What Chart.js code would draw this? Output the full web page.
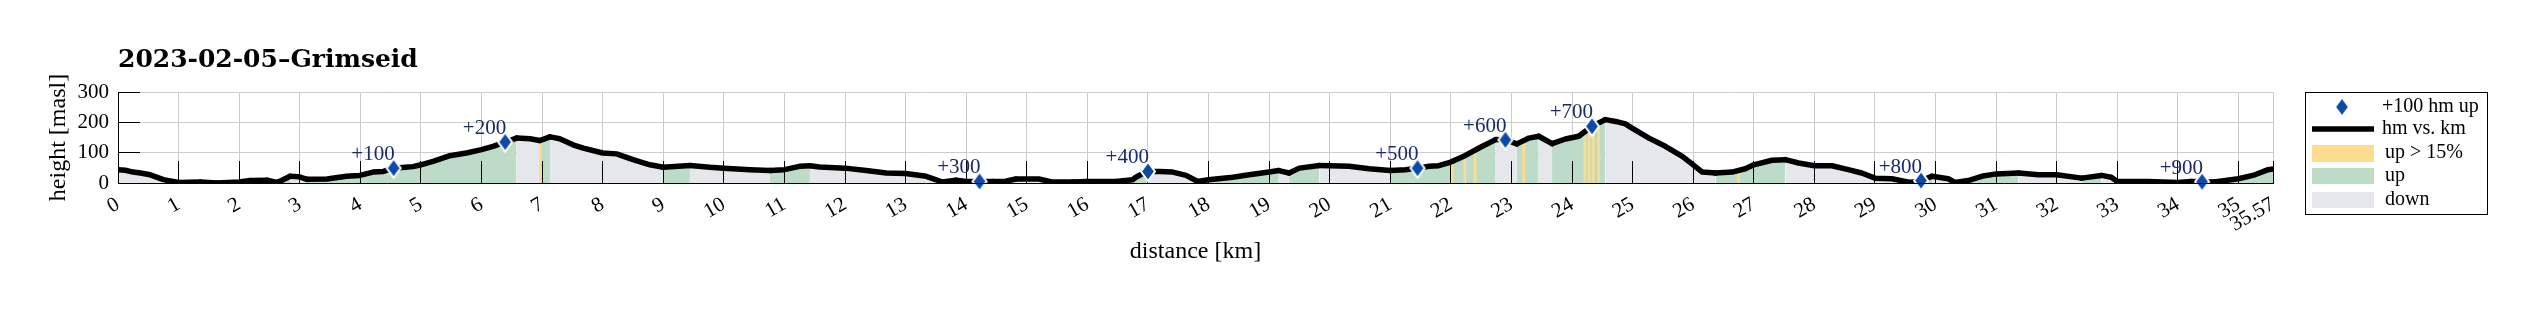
<!DOCTYPE html>
<html>
<head>
<meta charset="utf-8">
<script src="https://cdn.jsdelivr.net/npm/chart.js@4.4.1/dist/chart.umd.min.js"></script>
<style>
  html, body { margin: 0; padding: 0; background: #fff; }
  #wrap { position: relative; width: 2533px; height: 310px; }
</style>
</head>
<body>
<div id="wrap"><canvas id="profile"></canvas></div>
<script>
// elevation profile: distance [km] / height [masl]
const kmPts = [0.00, 0.12, 0.25, 0.37, 0.53, 0.75, 1.00, 1.36, 1.63, 2.00, 2.18, 2.46, 2.62, 2.70, 2.84, 2.98,
  3.12, 3.45, 3.77, 3.99, 4.21, 4.38, 4.55, 4.74, 4.87, 5.00, 5.20, 5.48, 5.75, 6.00, 6.19, 6.39, 6.58, 6.80,
  6.96, 7.13, 7.29, 7.51, 7.68, 8.00, 8.23, 8.50, 8.78, 9.00, 9.44, 9.77, 10.00, 10.43, 10.76, 11.00, 11.25,
  11.42, 11.58, 12.00, 12.35, 12.68, 13.00, 13.34, 13.61, 13.83, 14.00, 14.22, 14.44, 14.65, 14.82, 15.00,
  15.20, 15.43, 15.76, 16.00, 16.47, 16.75, 16.80, 16.98, 17.19, 17.41, 17.63, 17.82, 18.00, 18.40, 18.67,
  19.00, 19.16, 19.33, 19.50, 19.83, 20.00, 20.32, 20.65, 21.00, 21.25, 21.45, 21.64, 21.80, 22.00, 22.24,
  22.52, 22.74, 22.90, 23.09, 23.29, 23.45, 23.67, 23.89, 24.11, 24.33, 24.55, 24.72, 24.88, 24.99, 25.27,
  25.54, 25.82, 26.00, 26.15, 26.37, 26.64, 26.86, 27.00, 27.30, 27.52, 27.74, 28.00, 28.29, 28.56, 28.78,
  29.00, 29.28, 29.58, 29.76, 29.94, 30.21, 30.32, 30.54, 30.76, 31.00, 31.37, 31.70, 32.00, 32.41, 32.74,
  32.90, 33.00, 33.51, 34.00, 34.22, 34.40, 34.60, 35.00, 35.27, 35.49, 35.57];
const elevPts = [44, 42, 36, 33, 27, 11, 2, 3, 0, 3, 8, 9, 2, 8, 22, 21,
  12, 13, 22, 25, 36, 38, 49, 52, 54, 60, 71, 90, 99, 110, 121, 135, 148, 146,
  140, 152, 146, 126, 115, 99, 96, 77, 60, 52, 58, 52, 49, 44, 41, 44, 55,
  57, 53, 49, 41, 33, 31, 22, 3, 9, 5, 5, 5, 6, 13, 13,
  13, 3, 3, 5, 5, 11, 19, 38, 38, 36, 25, 5, 11, 19, 27,
  36, 41, 33, 49, 58, 57, 55, 47, 41, 44, 49, 55, 57, 69, 91,
  121, 143, 142, 129, 148, 154, 130, 145, 154, 187, 209, 203, 195, 181, 148,
  121, 88, 60, 36, 33, 36, 47, 60, 75, 77, 66, 57, 57, 44, 33,
  16, 14, 2, 8, 22, 14, 2, 8, 22, 30, 33, 27, 27, 16, 25,
  19, 5, 5, 2, 5, 4, 3, 14, 27, 44, 46];

// every further 100 hm of climbing
const gainKm = [4.55, 6.39, 14.22, 17.00, 21.45, 22.90, 24.33, 29.76, 34.40];
const gainElev = [49, 135, 5, 38, 49, 142, 187, 8, 4];
const gainLabels = ['+100', '+200', '+300', '+400', '+500', '+600', '+700', '+800', '+900'];

// stretches steeper than 15 %
const steepKm = [6.97, 22.02, 22.23, 22.40, 23.20, 24.21, 24.28, 24.35, 24.44, 26.75];
const steepTop = [136, 64, 86, 106, 136, 160, 170, 182, 196, 36];

const kmTicks = [0, 1, 2, 3, 4, 5, 6, 7, 8, 9, 10, 11, 12, 13, 14, 15, 16, 17, 18, 19, 20,
  21, 22, 23, 24, 25, 26, 27, 28, 29, 30, 31, 32, 33, 34, 35, 35.57];
const heightTicks = [0, 100, 200, 300];

const UP = '#bddcc8';
const STEEP = '#fddc8e';
const DOWN = '#e5e7eb';
const MARK = '#0a4aa8';
const SERIF = '"Liberation Serif", "DejaVu Serif", serif';

function makeDiamond(w, h) {
  const c = document.createElement('canvas');
  c.width = w + 6;
  c.height = h + 6;
  const g = c.getContext('2d');
  const cx = c.width / 2, cy = c.height / 2;
  g.beginPath();
  g.moveTo(cx, cy - h / 2);
  g.lineTo(cx + w / 2, cy);
  g.lineTo(cx, cy + h / 2);
  g.lineTo(cx - w / 2, cy);
  g.closePath();
  g.fillStyle = MARK;
  g.fill();
  g.lineWidth = 2;
  g.strokeStyle = '#fff';
  g.stroke();
  return c;
}
const diamond = makeDiamond(14, 19);

const align = (p) => Math.round(p - 0.5) + 0.5;

// tick marks drawn inside the axes, above the fill but below the profile line
const innerTicks = {
  id: 'innerTicks',
  afterDatasetDraw(chart, args) {
    if (args.index !== 0) return;
    const {ctx, chartArea: a, scales: {x, y}} = chart;
    ctx.save();
    ctx.strokeStyle = '#000';
    ctx.lineWidth = 1;
    ctx.beginPath();
    kmTicks.forEach(v => {
      const px = align(x.getPixelForValue(v));
      ctx.moveTo(px, a.bottom);
      ctx.lineTo(px, a.bottom - 22);
    });
    heightTicks.forEach(v => {
      const py = align(y.getPixelForValue(v));
      ctx.moveTo(a.left, py);
      ctx.lineTo(a.left + 22, py);
    });
    ctx.stroke();
    ctx.restore();
  }
};

const gainText = {
  id: 'gainText',
  afterDatasetsDraw(chart) {
    const {ctx} = chart;
    const meta = chart.getDatasetMeta(2);
    ctx.save();
    ctx.font = '21px ' + SERIF;
    ctx.fillStyle = '#1b2a6b';
    ctx.textAlign = 'right';
    ctx.textBaseline = 'alphabetic';
    meta.data.forEach((pt, i) => ctx.fillText(gainLabels[i], pt.x + 1, pt.y - 8));
    ctx.restore();
  }
};

const titleAndLegend = {
  id: 'titleAndLegend',
  afterDraw(chart) {
    const {ctx} = chart;
    ctx.save();
    ctx.fillStyle = '#000';
    ctx.font = 'bold 25px "DejaVu Serif", serif';
    ctx.textBaseline = 'alphabetic';
    ctx.textAlign = 'left';
    ctx.fillText('2023-02-05\u2013Grimseid', chart.chartArea.left, 67);

    // legend box
    const lx = 2305, ly = 92;
    ctx.fillStyle = '#fff';
    ctx.fillRect(lx, ly, 182, 122);
    ctx.strokeStyle = '#000';
    ctx.lineWidth = 1;
    ctx.strokeRect(lx + 0.5, ly + 0.5, 182, 122);

    ctx.drawImage(diamond, 2342 - diamond.width / 2, 107 - diamond.height / 2);
    ctx.beginPath();
    ctx.lineWidth = 5.5;
    ctx.moveTo(2312, 129);
    ctx.lineTo(2374, 129);
    ctx.stroke();
    ctx.fillStyle = STEEP; ctx.fillRect(2312, 145, 62, 17);
    ctx.fillStyle = UP; ctx.fillRect(2312, 168, 62, 16);
    ctx.fillStyle = DOWN; ctx.fillRect(2312, 192, 62, 16);

    ctx.fillStyle = '#000';
    ctx.font = '20px ' + SERIF;
    ctx.textBaseline = 'middle';
    ctx.fillText('+100 hm up', 2382, 107);
    ctx.fillText('hm vs. km', 2382, 129);
    ctx.fillText('up > 15%', 2385, 153);
    ctx.fillText('up', 2385, 176);
    ctx.fillText('down', 2385, 200);
    ctx.restore();
  }
};

new Chart(document.getElementById('profile'), {
  type: 'line',
  data: {
    datasets: [
      {
        type: 'bar',
        label: 'up > 15%',
        data: steepKm.map((k, i) => ({x: k, y: steepTop[i]})),
        backgroundColor: STEEP,
        barThickness: 2,
        order: 3
      },
      {
        label: 'hm vs. km',
        data: kmPts.map((k, i) => ({x: k, y: elevPts[i]})),
        borderColor: '#000',
        borderWidth: 5.5,
        borderJoinStyle: 'round',
        borderCapStyle: 'round',
        backgroundColor: DOWN,
        fill: 'origin',
        pointRadius: 0,
        tension: 0,
        segment: {
          backgroundColor: c => c.p1.parsed.y > c.p0.parsed.y ? UP : DOWN
        },
        order: 2
      },
      {
        label: '+100 hm up',
        data: gainKm.map((k, i) => ({x: k, y: gainElev[i]})),
        showLine: false,
        pointStyle: diamond,
        pointRadius: 9,
        clip: false,
        order: 1
      }
    ]
  },
  options: {
    responsive: true,
    maintainAspectRatio: false,
    animation: false,
    events: [],
    layout: { padding: { top: 92, right: 260, left: 0, bottom: 0 } },
    plugins: {
      legend: { display: false },
      tooltip: { enabled: false },
      filler: { drawTime: 'beforeDatasetsDraw' }
    },
    scales: {
      x: {
        type: 'linear',
        min: 0,
        max: 35.57,
        offset: false,
        afterFit: s => { s.height = 127; },
        afterBuildTicks: s => { s.ticks = kmTicks.map(v => ({value: v})); },
        grid: { color: '#cccccc', lineWidth: 1, drawTicks: false, offset: false },
        border: { color: '#000', width: 1, z: 1 },
        ticks: {
          autoSkip: false,
          minRotation: 30,
          maxRotation: 30,
          padding: 9,
          color: '#000',
          font: { family: SERIF, size: 21 },
          callback: v => String(v)
        },
        title: {
          display: true,
          text: 'distance [km]',
          color: '#000',
          font: { family: SERIF, size: 24 },
          padding: { top: 0, bottom: 44 }
        }
      },
      y: {
        min: 0,
        max: 300,
        afterFit: s => { s.width = 118; },
        afterBuildTicks: s => { s.ticks = heightTicks.map(v => ({value: v})); },
        grid: { color: '#cccccc', lineWidth: 1, drawTicks: false },
        border: { color: '#000', width: 1, z: 1 },
        ticks: {
          padding: 9,
          color: '#000',
          font: { family: SERIF, size: 21 }
        },
        title: {
          display: true,
          text: 'height [masl]',
          color: '#000',
          font: { family: SERIF, size: 24 },
          padding: { top: 44, bottom: 0 }
        }
      }
    }
  },
  plugins: [innerTicks, gainText, titleAndLegend]
});
</script>
</body>
</html>
